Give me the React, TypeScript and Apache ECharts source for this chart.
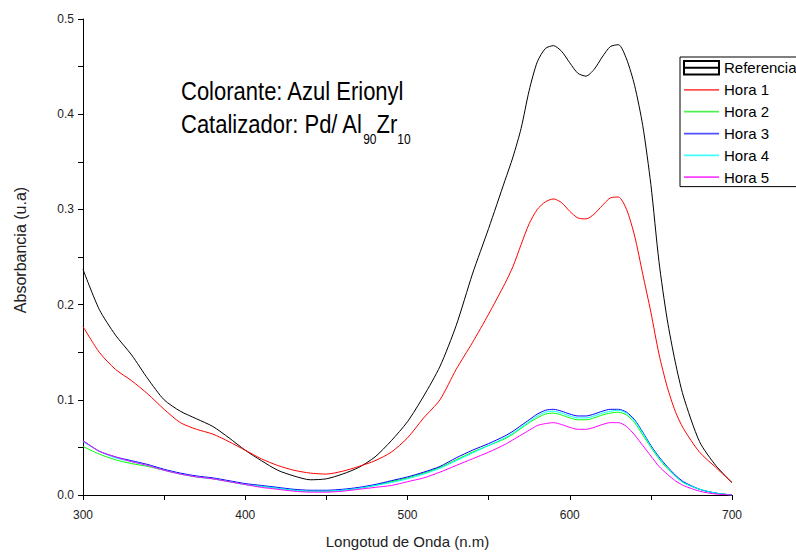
import React, { useEffect, useRef } from "react";
import * as echarts from "echarts";

const wavelengths = [
  300, 310, 320, 330, 340, 350, 360, 370, 380, 390, 400, 410, 420, 430, 440, 450, 460, 470, 480, 490,
  500, 510, 520, 530, 540, 550, 560, 565, 570, 575, 580, 585, 590, 595, 600, 605, 610, 615, 620, 625,
  630, 635, 640, 645, 650, 655, 660, 665, 670, 680, 690, 700,
];

const referencia = [
  0.237, 0.195, 0.168, 0.147, 0.122, 0.100, 0.088, 0.080, 0.072, 0.060, 0.047, 0.036, 0.026, 0.020, 0.016, 0.017, 0.022, 0.029, 0.040, 0.057,
  0.077, 0.104, 0.135, 0.178, 0.232, 0.280, 0.330, 0.355, 0.385, 0.425, 0.455, 0.469, 0.472, 0.466, 0.454, 0.443, 0.440, 0.447, 0.460, 0.471,
  0.473, 0.458, 0.430, 0.388, 0.326, 0.245, 0.185, 0.140, 0.104, 0.056, 0.031, 0.013,
];

const hora1 = [
  0.177, 0.150, 0.132, 0.120, 0.106, 0.090, 0.076, 0.069, 0.064, 0.056, 0.047, 0.038, 0.031, 0.026, 0.023, 0.022, 0.025, 0.030, 0.036, 0.045,
  0.060, 0.081, 0.100, 0.132, 0.160, 0.190, 0.222, 0.240, 0.263, 0.285, 0.300, 0.308, 0.311, 0.307, 0.298, 0.291, 0.290, 0.295, 0.304, 0.312,
  0.313, 0.300, 0.272, 0.232, 0.192, 0.148, 0.114, 0.088, 0.070, 0.045, 0.029, 0.013,
];

const hora2 = [
  0.051, 0.043, 0.037, 0.033, 0.030, 0.026, 0.022, 0.019, 0.017, 0.014, 0.011, 0.009, 0.007, 0.005, 0.004, 0.004, 0.005, 0.007, 0.010, 0.014,
  0.018, 0.023, 0.029, 0.037, 0.045, 0.052, 0.059, 0.064, 0.070, 0.076, 0.081, 0.085, 0.086, 0.084, 0.081, 0.079, 0.079, 0.081, 0.084, 0.086,
  0.087, 0.084, 0.076, 0.063, 0.050, 0.038, 0.028, 0.020, 0.013, 0.006, 0.002, 0.000,
];

const hora3 = [
  0.057, 0.046, 0.040, 0.036, 0.032, 0.027, 0.023, 0.020, 0.018, 0.015, 0.012, 0.010, 0.008, 0.006, 0.005, 0.005, 0.006, 0.008, 0.011, 0.015,
  0.019, 0.024, 0.030, 0.039, 0.047, 0.054, 0.062, 0.067, 0.073, 0.079, 0.085, 0.089, 0.090, 0.088, 0.085, 0.083, 0.083, 0.085, 0.088, 0.090,
  0.090, 0.087, 0.079, 0.066, 0.052, 0.040, 0.030, 0.021, 0.014, 0.006, 0.002, 0.000,
];

const hora4 = [
  0.056, 0.046, 0.039, 0.035, 0.031, 0.026, 0.022, 0.019, 0.017, 0.014, 0.011, 0.009, 0.007, 0.005, 0.004, 0.004, 0.005, 0.007, 0.010, 0.013,
  0.017, 0.022, 0.028, 0.036, 0.044, 0.052, 0.060, 0.065, 0.071, 0.077, 0.083, 0.087, 0.088, 0.086, 0.083, 0.081, 0.081, 0.083, 0.086, 0.088,
  0.089, 0.086, 0.078, 0.065, 0.051, 0.039, 0.029, 0.020, 0.013, 0.006, 0.002, 0.000,
];

const hora5 = [
  0.057, 0.046, 0.040, 0.035, 0.031, 0.026, 0.022, 0.019, 0.017, 0.014, 0.011, 0.008, 0.006, 0.004, 0.003, 0.003, 0.004, 0.006, 0.008, 0.010,
  0.014, 0.018, 0.024, 0.031, 0.038, 0.045, 0.053, 0.058, 0.063, 0.068, 0.073, 0.075, 0.076, 0.074, 0.071, 0.069, 0.069, 0.071, 0.074, 0.076,
  0.076, 0.072, 0.063, 0.052, 0.041, 0.030, 0.022, 0.015, 0.010, 0.004, 0.001, 0.000,
];

const seriesNames = ["Referencia", "Hora 1", "Hora 2", "Hora 3", "Hora 4", "Hora 5"];
const seriesValues = [referencia, hora1, hora2, hora3, hora4, hora5];
const seriesColors = ["#000000", "#ff0000", "#00ff00", "#0000ff", "#00ffff", "#ff00ff"];
const legendColors = ["#000000", "#ff5050", "#50f050", "#5050ff", "#40ffff", "#ff40ff"];

const FONT = "'Liberation Sans', Arial, sans-serif";

const BOX_ICON = "path://M0,0H36V14H0Z M0,7H36";
const LINE_ICON = "path://M0,0h0.01v0.01h-0.01Z M0,6.1H36V7.9H0Z M35.99,13.99h0.01v0.01h-0.01Z";

export default function App() {
  const ref = useRef<HTMLDivElement>(null);

  useEffect(() => {
    if (!ref.current) return;
    const chart = echarts.init(ref.current, undefined, { renderer: "svg" });

    const series = seriesNames.map((name, i) => ({
      name,
      type: "line",
      data: wavelengths.map((w, j) => [w, seriesValues[i][j]]),
      symbol: "none",
      smooth: 0.25,
      lineStyle: { color: seriesColors[i], width: 1 },
      itemStyle: { color: seriesColors[i] },
      z: 2 + i,
    }));

    const legendData = seriesNames.map((name, i) =>
      i === 0
        ? { name, icon: BOX_ICON, itemStyle: { color: "#fff", borderColor: "#000", borderWidth: 2 } }
        : { name, icon: LINE_ICON, itemStyle: { color: legendColors[i], borderWidth: 0 } }
    );

    const tickStyle = { show: true, length: 5, inside: false, lineStyle: { color: "#000", width: 1 } };
    const minorStyle = { show: true, splitNumber: 2, length: 5, lineStyle: { color: "#000", width: 1 } };

    chart.setOption({
      animation: false,
      backgroundColor: "#ffffff",
      grid: { left: 83, right: 64, top: 19, bottom: 54, containLabel: false },
      xAxis: {
        type: "value",
        min: 300,
        max: 700,
        interval: 100,
        name: "Longotud de Onda (n.m)",
        nameLocation: "middle",
        nameGap: 39,
        nameTextStyle: { fontFamily: FONT, fontSize: 15, color: "#222" },
        axisLine: { show: true, onZero: false, lineStyle: { color: "#000", width: 1 } },
        axisTick: tickStyle,
        minorTick: minorStyle,
        splitLine: { show: false },
        axisLabel: { fontFamily: FONT, fontSize: 12, color: "#222", margin: 14 },
      },
      yAxis: {
        type: "value",
        min: 0,
        max: 0.5,
        interval: 0.1,
        name: "Absorbancia (u.a)",
        nameLocation: "middle",
        nameGap: 55,
        nameRotate: 90,
        nameTextStyle: { fontFamily: FONT, fontSize: 16, color: "#222", padding: [0, 0, 0, 14] },
        axisLine: { show: true, onZero: false, lineStyle: { color: "#000", width: 1 } },
        axisTick: tickStyle,
        minorTick: minorStyle,
        splitLine: { show: false },
        axisLabel: {
          fontFamily: FONT,
          fontSize: 12,
          color: "#222",
          margin: 9,
          formatter: (v: number) => v.toFixed(1),
        },
      },
      legend: {
        orient: "vertical",
        left: 680,
        top: 57,
        width: 200,
        padding: [3, 3, 2, 3],
        itemWidth: 35,
        itemHeight: 14,
        itemGap: 6.8,
        borderColor: "#000",
        borderWidth: 1,
        backgroundColor: "#fff",
        textStyle: { fontFamily: FONT, fontSize: 15, color: "#000", overflow: "none" },
        data: legendData,
      },
      graphic: [
        {
          type: "text",
          x: 181,
          y: 78,
          scaleY: 1.19,
          style: {
            text: "Colorante: Azul Erionyl",
            fontFamily: FONT,
            fontSize: 22,
            fill: "#000",
            textVerticalAlign: "top",
          },
        },
        {
          type: "text",
          x: 181,
          y: 111,
          scaleY: 1.19,
          style: {
            text: "{m|Catalizador: Pd/ Al}{s|90}{m|Zr}{s|10}",
            fontFamily: FONT,
            fill: "#000",
            rich: {
              m: { fontFamily: FONT, fontSize: 22, lineHeight: 24, verticalAlign: "top", fill: "#000" },
              s: { fontFamily: FONT, fontSize: 12, lineHeight: 12, verticalAlign: "top", padding: [18, 0, 0, 0], fill: "#000" },
            },
          },
        },
      ],
      series,
    });

    return () => chart.dispose();
  }, []);

  return (
    <div
      ref={ref}
      style={{ position: "absolute", left: 0, top: 0, width: 796, height: 554 }}
    />
  );
}
